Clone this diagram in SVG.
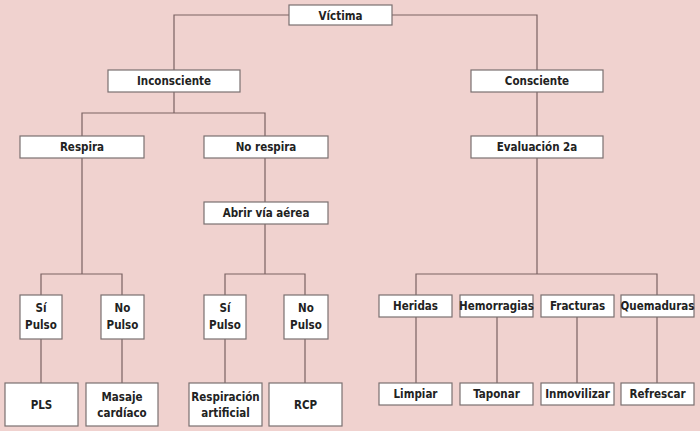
<svg xmlns="http://www.w3.org/2000/svg" width="700" height="431" viewBox="0 0 700 431">
<style>
.b{fill:#fff;stroke:#7a7070;stroke-width:1.2}
.t{font-family:"DejaVu Sans Condensed","DejaVu Sans",sans-serif;font-size:11.5px;font-weight:bold;fill:#222;text-anchor:middle}
.c{fill:none;stroke:#7a6262;stroke-width:1.2}
</style>
<rect width="700" height="431" fill="#f0d2cf"/>
<g id="connectors" class="c">
<path d="M289 15H174V70M392 15H537V70"/>
<path d="M174 92V113M82 136V113H265V136"/>
<path d="M82 158V274M41 295V274H122V295"/>
<path d="M265 158V202M265 224V274M225 295V274H305V295"/>
<path d="M41 339V383M122 339V383M225 339V383M305 339V383"/>
<path d="M537 92V136M537 158V274M416 295V274H657V295"/>
<path d="M416 317V383M497 317V383M577 317V383M657 317V383"/>
</g>
<g id="victima"><rect class="b" x="289" y="5" width="103" height="20"/><text class="t" x="340.5" y="19.5">Víctima</text></g>
<g id="inconsciente"><rect class="b" x="108" y="70" width="132" height="22"/><text class="t" x="174" y="85">Inconsciente</text></g>
<g id="consciente"><rect class="b" x="471" y="70" width="132" height="22"/><text class="t" x="537" y="85">Consciente</text></g>
<g id="respira"><rect class="b" x="20" y="136" width="124" height="22"/><text class="t" x="82" y="151">Respira</text></g>
<g id="norespira"><rect class="b" x="204" y="136" width="124" height="22"/><text class="t" x="266" y="151">No respira</text></g>
<g id="evaluacion"><rect class="b" x="471" y="136" width="132" height="22"/><text class="t" x="537" y="151">Evaluación 2a</text></g>
<g id="abrir"><rect class="b" x="204" y="202" width="124" height="22"/><text class="t" x="266" y="217">Abrir vía aérea</text></g>
<g id="sipulso1"><rect class="b" x="20" y="295" width="42" height="44"/><text class="t" x="41" y="312">Sí</text><text class="t" x="41" y="329">Pulso</text></g>
<g id="nopulso1"><rect class="b" x="101" y="295" width="43" height="44"/><text class="t" x="122.5" y="312">No</text><text class="t" x="122.5" y="329">Pulso</text></g>
<g id="sipulso2"><rect class="b" x="204" y="295" width="42" height="44"/><text class="t" x="225" y="312">Sí</text><text class="t" x="225" y="329">Pulso</text></g>
<g id="nopulso2"><rect class="b" x="284" y="295" width="44" height="44"/><text class="t" x="306" y="312">No</text><text class="t" x="306" y="329">Pulso</text></g>
<g id="pls"><rect class="b" x="5" y="383" width="73" height="43"/><text class="t" x="41.5" y="409">PLS</text></g>
<g id="masaje"><rect class="b" x="86" y="383" width="72" height="43"/><text class="t" x="122" y="401">Masaje</text><text class="t" x="122" y="417">cardíaco</text></g>
<g id="respiracion"><rect class="b" x="189" y="383" width="73" height="43"/><text class="t" x="225.5" y="401">Respiración</text><text class="t" x="225.5" y="417">artificial</text></g>
<g id="rcp"><rect class="b" x="269" y="383" width="73" height="43"/><text class="t" x="305.5" y="409">RCP</text></g>
<g id="heridas"><rect class="b" x="379" y="295" width="73" height="22"/><text class="t" x="415.5" y="310">Heridas</text></g>
<g id="hemorragias"><rect class="b" x="460" y="295" width="73" height="22"/><text class="t" x="496.5" y="310">Hemorragias</text></g>
<g id="fracturas"><rect class="b" x="541" y="295" width="73" height="22"/><text class="t" x="577.5" y="310">Fracturas</text></g>
<g id="quemaduras"><rect class="b" x="621" y="295" width="73" height="22"/><text class="t" x="657.5" y="310">Quemaduras</text></g>
<g id="limpiar"><rect class="b" x="379" y="383" width="73" height="22"/><text class="t" x="415.5" y="398">Limpiar</text></g>
<g id="taponar"><rect class="b" x="460" y="383" width="73" height="22"/><text class="t" x="496.5" y="398">Taponar</text></g>
<g id="inmovilizar"><rect class="b" x="541" y="383" width="73" height="22"/><text class="t" x="577.5" y="398">Inmovilizar</text></g>
<g id="refrescar"><rect class="b" x="621" y="383" width="73" height="22"/><text class="t" x="657.5" y="398">Refrescar</text></g>
</svg>
